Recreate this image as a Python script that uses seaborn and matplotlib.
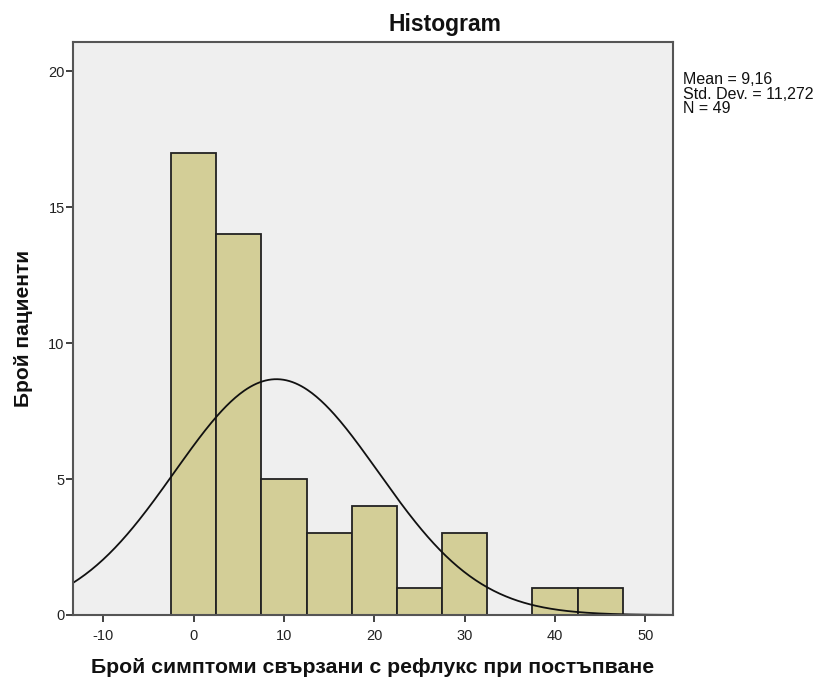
import numpy as np
import matplotlib
matplotlib.use("Agg")
import matplotlib.pyplot as plt
import seaborn as sns

# Data (bin centres, width 5)
bin_centers = [0, 5, 10, 15, 20, 25, 30, 35, 40, 45]
counts = [17, 14, 5, 3, 4, 1, 3, 0, 1, 1]
bin_edges = [-2.5, 2.5, 7.5, 12.5, 17.5, 22.5, 27.5, 32.5, 37.5, 42.5, 47.5]
mean_val = 9.16
std_val = 11.272
n_val = 49
x_ticks = [-10, 0, 10, 20, 30, 40, 50]
y_ticks = [0, 5, 10, 15, 20]

sns.set_style("white")
plt.rcParams['font.family'] = ['Liberation Sans', 'DejaVu Sans']
plt.rcParams['axes.unicode_minus'] = False

fig = plt.figure(figsize=(8.16, 6.82), dpi=100)
ax = fig.add_axes([73/816, 1-615/682, 600/816, 573/682])
ax.set_facecolor("#EFEFEF")

sns.histplot(x=bin_centers, weights=counts, bins=bin_edges, ax=ax,
             color="#D3CE97", edgecolor="#222222", linewidth=1.3, alpha=1)

xs = np.linspace(-13.35, 53.0, 400)
bw = 5
ys = n_val * bw / (std_val * np.sqrt(2 * np.pi)) * np.exp(-0.5 * ((xs - mean_val) / std_val) ** 2)
sns.lineplot(x=xs, y=ys, ax=ax, color="#111111", linewidth=1.3)

ax.set_xlim(-13.35, 53.05)
ax.set_ylim(0, 21.07)
ax.set_xticks(x_ticks)
ax.set_yticks(y_ticks)
ax.tick_params(axis='both', which='major', direction='out', length=5, width=1.3,
               color="#333333", labelsize=10.5, labelcolor="#222222",
               bottom=True, left=True, top=False, right=False)
ax.tick_params(axis='x', pad=5)
ax.tick_params(axis='y', pad=1)
for s in ax.spines.values():
    s.set_visible(True)
    s.set_color("#555555")
    s.set_linewidth(1.5)

ax.set_xlabel("Брой симптоми свързани с рефлукс при постъпване", fontsize=15.3,
              fontweight='bold', labelpad=11, color="#111111")
ax.set_ylabel("Брой пациенти", fontsize=15, fontweight='bold', labelpad=11,
              color="#111111")
# Title is centred over the plot + annotation area
fig.text((73 + 816) / 2 / 816, 1 - 25 / 682, "Histogram", fontsize=16.5,
         fontweight='bold', ha='center', va='center', color="#111111")

stats_text = ("Mean = " + f"{mean_val:.2f}".replace('.', ',') + "\n"
              + "Std. Dev. = " + f"{std_val:.3f}".replace('.', ',') + "\n"
              + f"N = {n_val}")
fig.text(683/816, 1-72/682, stats_text,
         fontsize=11.5, va='top', ha='left', linespacing=0.96, color="#111111")

fig.savefig("out.png", dpi=100)
